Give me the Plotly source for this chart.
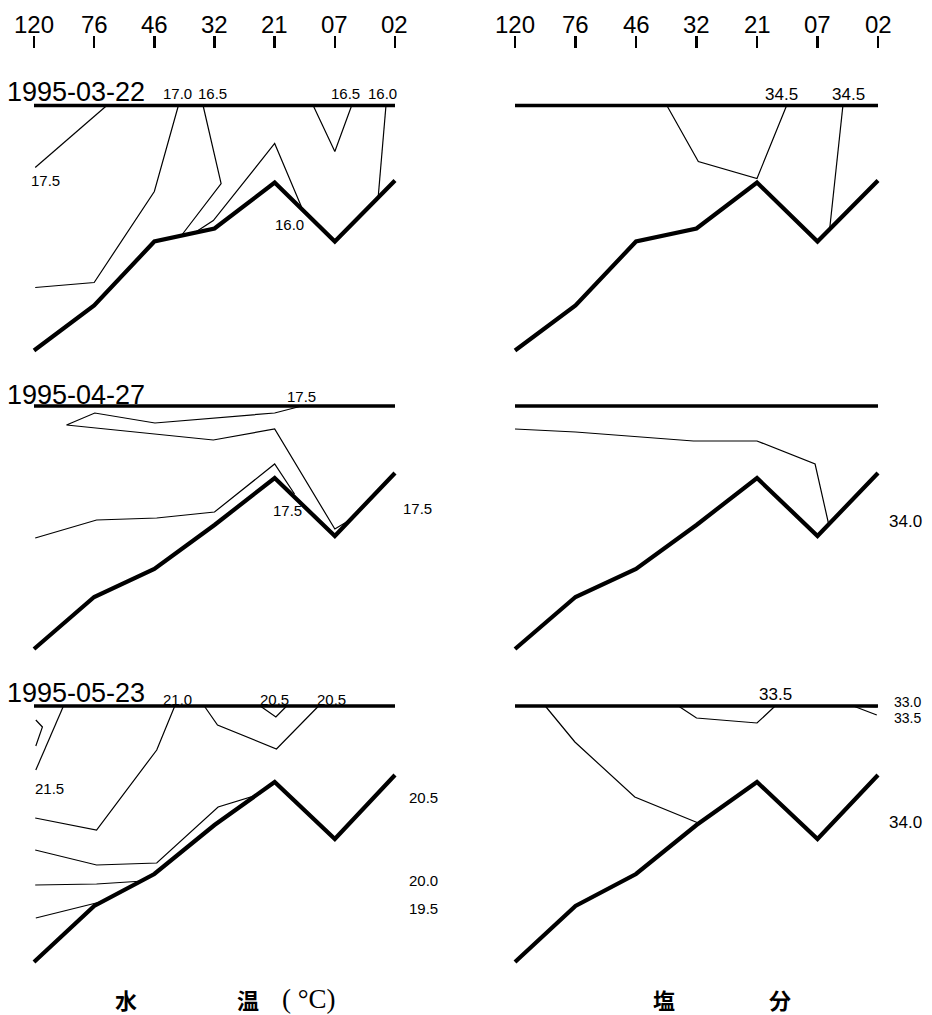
import plotly.graph_objects as go

# ---------------- data ----------------
STATIONS = ["120", "76", "46", "32", "21", "07", "02"]
STATION_IDX = [0, 1, 2, 3, 4, 5, 6]
DATES = ["1995-03-22", "1995-04-27", "1995-05-23"]
TITLE_TEMP = ["水", "温", "( °C)"]
TITLE_SAL = ["塩", "分"]

# sea-floor depth under each station (relative depth units, surface = 0)
BOTTOM_R1 = [245, 200, 136, 123, 77, 136, 75]
BOTTOM_R2 = [243, 191, 163, 119, 72, 130, 67]
BOTTOM_R3 = [256, 200, 168, 119, 76, 133, 69]

# isolines: x = station index position, y = depth
T1_175_X = [0.02, 0.98, 1.21];            T1_175_Y = [62, 12, 0]
T1_170_X = [0.02, 1.0, 2.0, 2.40];        T1_170_Y = [182, 177, 86, 0]
T1_165A_X = [2.81, 3.11, 2.45];           T1_165A_Y = [0, 78, 130]
T1_160A_X = [2.70, 2.98, 4.0, 4.45];      T1_160A_Y = [126, 115, 38, 102]
T1_165B_X = [4.64, 5.0, 5.28];            T1_165B_Y = [0, 46, 0]
T1_160B_X = [5.85, 5.72];                 T1_160B_Y = [0, 92]

S1_345A_X = [2.51, 3.03, 4.0, 4.49];      S1_345A_Y = [0, 56, 73, 0]
S1_345B_X = [5.42, 5.20];                 S1_345B_Y = [0, 124]

T2_175A_X = [4.45, 4.0, 2.01, 1.01, 0.54, 2.98, 4.0, 5.0, 5.25]
T2_175A_Y = [0, 7, 17, 7, 19, 34, 23, 123, 114]
T2_175B_X = [0.02, 1.04, 2.04, 3.0, 4.0, 4.33]
T2_175B_Y = [132, 114, 112, 106, 58, 88]

S2_340_X = [0.0, 1.0, 2.95, 4.0, 4.96, 5.18]
S2_340_Y = [23, 26, 35, 35, 58, 117]

T3_220_X = [0.03, 0.14, 0.03];            T3_220_Y = [14, 21, 40]
T3_215_X = [0.49, 0.03];                  T3_215_Y = [0, 64]
T3_210_X = [2.34, 2.04, 1.04, 0.02];      T3_210_Y = [0, 44, 124, 112]
T3_205A_X = [2.83, 3.05, 4.03, 4.73];     T3_205A_Y = [0, 19, 43, 0]
T3_205B_X = [3.76, 4.02, 4.20];           T3_205B_Y = [0, 11, 0]
T3_205C_X = [0.02, 1.04, 2.04, 3.06, 3.76]
T3_205C_Y = [144, 159, 157, 101, 88]
T3_200_X = [0.02, 1.04, 1.82];            T3_200_Y = [179, 178, 175]
T3_195_X = [0.03, 1.10];                  T3_195_Y = [212, 196]

S3_335A_X = [2.70, 3.0, 4.0, 4.30];       S3_335A_Y = [0, 12, 17, 0]
S3_340_X = [0.50, 0.99, 1.98, 3.03];      S3_340_Y = [0, 36, 91, 117]
S3_330_X = [5.57, 5.98];                  S3_330_Y = [0, 1]
S3_335B_X = [5.59, 5.98];                 S3_335B_Y = [0, 9]

# isoline labels: (station position, depth, text)
LAB_T1 = [(2.38, -12, "17.0"), (2.96, -12, "16.5"), (5.17, -12, "16.5"),
          (5.80, -12, "16.0"), (0.19, 75, "17.5"), (4.24, 119, "16.0")]
LAB_S1 = [(4.40, -11, "34.5"), (5.51, -11, "34.5")]
LAB_T2 = [(4.45, -9, "17.5"), (4.22, 105, "17.5"), (6.38, 103, "17.5")]
LAB_S2 = [(6.46, 115, "34.0")]
LAB_T3 = [(2.39, -7, "21.0"), (3.99, -7, "20.5"), (4.94, -7, "20.5"),
          (0.25, 82, "21.5"), (6.47, 91, "20.5"), (6.47, 174, "20.0"),
          (6.47, 202, "19.5")]
LAB_S3 = [(4.31, -12, "33.5"), (6.48, -4, "33.0"), (6.48, 12, "33.5"),
          (6.46, 116, "34.0")]

PANELS = [
    dict(bottom=BOTTOM_R1, labels=LAB_T1, lsize=15,
         lines=[(T1_175_X, T1_175_Y), (T1_170_X, T1_170_Y), (T1_165A_X, T1_165A_Y),
                (T1_160A_X, T1_160A_Y), (T1_165B_X, T1_165B_Y), (T1_160B_X, T1_160B_Y)]),
    dict(bottom=BOTTOM_R1, labels=LAB_S1, lsize=17,
         lines=[(S1_345A_X, S1_345A_Y), (S1_345B_X, S1_345B_Y)]),
    dict(bottom=BOTTOM_R2, labels=LAB_T2, lsize=15,
         lines=[(T2_175A_X, T2_175A_Y), (T2_175B_X, T2_175B_Y)]),
    dict(bottom=BOTTOM_R2, labels=LAB_S2, lsize=17,
         lines=[(S2_340_X, S2_340_Y)]),
    dict(bottom=BOTTOM_R3, labels=LAB_T3, lsize=15,
         lines=[(T3_220_X, T3_220_Y), (T3_215_X, T3_215_Y), (T3_210_X, T3_210_Y),
                (T3_205A_X, T3_205A_Y), (T3_205B_X, T3_205B_Y), (T3_205C_X, T3_205C_Y),
                (T3_200_X, T3_200_Y), (T3_195_X, T3_195_Y)]),
    dict(bottom=BOTTOM_R3, labels=LAB_S3, lsize=17,
         lines=[(S3_335A_X, S3_335A_Y), (S3_340_X, S3_340_Y),
                (S3_330_X, S3_330_Y), (S3_335B_X, S3_335B_Y)]),
]

# ---------------- layout helpers ----------------
W, H = 932, 1015
def fx(p): return p / W
def fy(p): return 1 - p / H

COLS = [(34, 395), (515, 878)]      # pixel x of first / last station
ROWS = [105.5, 406, 706]            # pixel y of sea surface
XPAD_L, XPAD_R = 0.25, 0.8
YTOP, YBOT = -20, 270

LABEL_FONT = "Liberation Sans, Arial, sans-serif"

fig = go.Figure()
layout = dict(width=W, height=H, margin=dict(l=0, r=0, t=0, b=0, pad=0),
              paper_bgcolor="white", plot_bgcolor="rgba(0,0,0,0)",
              showlegend=False)
annotations = []

for k, panel in enumerate(PANELS):
    r, c = divmod(k, 2)
    n = k + 1
    xa = "x" if n == 1 else f"x{n}"
    ya = "y" if n == 1 else f"y{n}"
    x0, x6 = COLS[c]
    sc = (x6 - x0) / 6
    s = ROWS[r]
    xdom = [fx(x0 - XPAD_L * sc), fx(x6 + XPAD_R * sc)]
    ydom = [fy(s + YBOT), fy(s + YTOP)]
    xkey = "xaxis" if n == 1 else f"xaxis{n}"
    ykey = "yaxis" if n == 1 else f"yaxis{n}"
    xax = dict(domain=xdom, range=[-XPAD_L, 6 + XPAD_R], anchor=ya,
               showgrid=False, zeroline=False, showline=False, fixedrange=True)
    if r == 0:
        xax.update(visible=True, side="top", anchor="free", position=fy(48),
                   tickmode="array", tickvals=STATION_IDX, ticktext=STATIONS,
                   ticks="outside", ticklen=12, tickwidth=2.4, tickcolor="black",
                   showticklabels=False)
        for sx, st in zip(STATION_IDX, STATIONS):
            annotations.append(dict(x=sx, y=fy(24), xref=xa, yref="paper", text=st,
                                    showarrow=False, xanchor="center", yanchor="middle",
                                    font=dict(family=LABEL_FONT, size=24, color="black")))
    else:
        xax.update(visible=False)
    layout[xkey] = xax
    layout[ykey] = dict(domain=ydom, range=[YBOT, YTOP], anchor=xa, visible=False,
                        showgrid=False, zeroline=False, fixedrange=True)

    # isolines
    for lx, ly in panel["lines"]:
        fig.add_trace(go.Scatter(x=lx, y=ly, mode="lines", xaxis=xa, yaxis=ya,
                                 line=dict(color="black", width=1.2),
                                 hoverinfo="skip"))
    # sea surface
    fig.add_trace(go.Scatter(x=STATION_IDX, y=[0] * len(STATION_IDX), mode="lines",
                             xaxis=xa, yaxis=ya,
                             line=dict(color="black", width=3.6), hoverinfo="skip"))
    # sea floor
    fig.add_trace(go.Scatter(x=STATION_IDX, y=panel["bottom"], mode="lines",
                             xaxis=xa, yaxis=ya,
                             line=dict(color="black", width=4.2, shape="linear"),
                             hoverinfo="skip"))
    for lx, ly, txt in panel["labels"]:
        small = txt in ("33.0",) or (k == 5 and abs(lx - 6.48) < 0.01)
        annotations.append(dict(x=lx, y=ly, xref=xa, yref=ya, text=txt,
                                showarrow=False, xanchor="center", yanchor="middle",
                                font=dict(family=LABEL_FONT,
                                          size=14 if small else panel["lsize"],
                                          color="black")))

# dates
for r, d in enumerate(DATES):
    cap_mid = [92.5, 395, 692.5][r]
    annotations.append(dict(x=fx(5), y=fy(cap_mid), xref="paper", yref="paper",
                            text=d, showarrow=False, xanchor="left", yanchor="middle",
                            font=dict(family=LABEL_FONT, size=27, color="black")))

# bottom titles
CJK = "Noto Sans CJK JP, Noto Sans CJK SC, sans-serif"
for txt, px in zip(TITLE_TEMP[:2], [126, 248]):
    annotations.append(dict(x=fx(px), y=fy(999), xref="paper", yref="paper", text=f"<b>{txt}</b>",
                            showarrow=False, xanchor="center", yanchor="middle",
                            font=dict(family=CJK, size=22, color="black")))
annotations.append(dict(x=fx(280), y=fy(999), xref="paper", yref="paper", text=TITLE_TEMP[2],
                        showarrow=False, xanchor="left", yanchor="middle",
                        font=dict(family="Liberation Serif, serif", size=27, color="black")))
for txt, px in zip(TITLE_SAL, [664, 780]):
    annotations.append(dict(x=fx(px), y=fy(999), xref="paper", yref="paper", text=f"<b>{txt}</b>",
                            showarrow=False, xanchor="center", yanchor="middle",
                            font=dict(family=CJK, size=22, color="black")))

layout["annotations"] = annotations
fig.update_layout(**layout)
fig.write_html("out.html", config={"displayModeBar": False, "staticPlot": True},
               post_script="document.body.style.margin='0px';"
                           "document.body.style.overflow='hidden';")
